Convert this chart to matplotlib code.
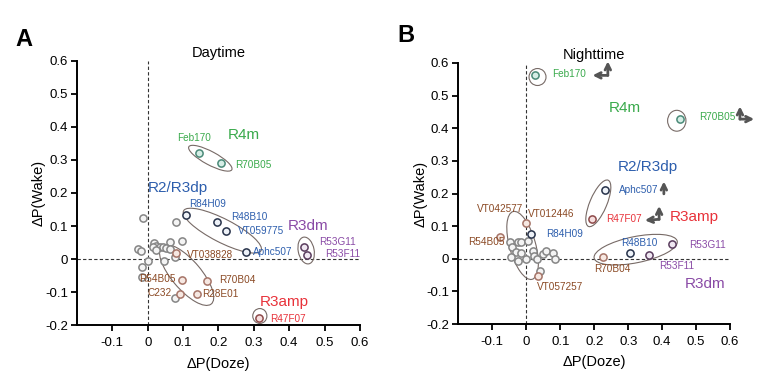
import numpy as np
import matplotlib.pyplot as plt
from matplotlib.patches import Ellipse
from matplotlib.ticker import FuncFormatter

plt.rcParams['font.family'] = ['Liberation Sans', 'DejaVu Sans']
plt.rcParams['axes.unicode_minus'] = False

# ---- data: daytime (panel A) ----
day_names = ['Feb170', 'R70B05', 'R84H09', 'R48B10', 'VT059775', 'Aphc507',
             'R53G11', 'R53F11', 'R47F07', 'R70B04', 'R28E01', 'C232', 'R54B05', 'VT038828']
day_doze = [0.145, 0.208, 0.107, 0.196, 0.221, 0.279,
            0.443, 0.451, 0.315, 0.168, 0.138, 0.091, 0.098, 0.079]
day_wake = [0.321, 0.291, 0.132, 0.113, 0.086, 0.021,
            0.038, 0.013, -0.177, -0.066, -0.107, -0.105, -0.063, 0.018]
day_group = ['R4m', 'R4m', 'R2/R3dp', 'R2/R3dp', 'R2/R3dp', 'R2/R3dp',
             'R3dm', 'R3dm', 'R3amp', 'other', 'other', 'other', 'other', 'other']
day_rest_doze = [-0.012, 0.079, 0.063, 0.098, 0.018, 0.022, 0.014, 0.036, 0.043, 0.051,
                 0.062, 0.023, -0.027, -0.018, 0.002, 0.046, -0.017, -0.017, 0.077, 0.078]
day_rest_wake = [0.124, 0.111, 0.051, 0.056, 0.048, 0.040, 0.036, 0.037, 0.038, 0.035,
                 0.030, 0.028, 0.030, 0.024, -0.005, -0.007, -0.025, -0.053, -0.118, 0.006]

# ---- data: nighttime (panel B) ----
night_names = ['Feb170', 'R70B05', 'Aphc507', 'R84H09', 'R48B10', 'R47F07',
               'R53G11', 'R53F11', 'R70B04', 'VT012446', 'VT057257', 'R54B05']
night_doze = [0.027, 0.452, 0.231, 0.015, 0.305, 0.194,
              0.429, 0.362, 0.226, -0.002, 0.034, -0.077]
night_wake = [0.562, 0.427, 0.212, 0.075, 0.017, 0.123,
              0.044, 0.013, 0.007, 0.110, -0.054, 0.066]
night_group = ['R4m', 'R4m', 'R2/R3dp', 'R2/R3dp', 'R2/R3dp', 'R3amp',
               'R3dm', 'R3dm', 'other', 'other', 'other', 'other']
night_rest_doze = [-0.047, -0.025, -0.015, 0.005, -0.041, -0.029, -0.015, -0.044, -0.025,
                   0.000, 0.020, 0.024, 0.030, 0.049, 0.059, 0.079, 0.083, 0.039]
night_rest_wake = [0.051, 0.053, 0.053, 0.055, 0.036, 0.022, 0.018, 0.005, -0.007,
                   0.000, 0.023, 0.010, -0.002, 0.015, 0.023, 0.017, -0.002, -0.036]

x_ticks = [-0.1, 0, 0.1, 0.2, 0.3, 0.4, 0.5, 0.6]
y_ticks = [-0.2, -0.1, 0, 0.1, 0.2, 0.3, 0.4, 0.5, 0.6]

# ---- styles ----
text_col = {'R4m': '#3aaa4c', 'R2/R3dp': '#2d5ead', 'R3dm': '#8a4ba6',
            'R3amp': '#e8333b', 'other': '#8b4a25'}
edge_col = {'R4m': '#4a8a78', 'R2/R3dp': '#27324a', 'R3dm': '#5a3d5e',
            'R3amp': '#8e4a4a', 'other': '#a67468', 'rest': '#858585'}
face_col = {'R4m': '#d6eee6', 'R2/R3dp': '#eef2f8', 'R3dm': '#f0e8f2',
            'R3amp': '#f6dede', 'other': '#f6e8e2', 'rest': '#f4f4f4'}
ell_col = '#776a66'

# label positions (left edge, vertical centre) in data units
day_label_pos = {'Feb170': (0.084, 0.367), 'R70B05': (0.246, 0.284), 'R84H09': (0.118, 0.167),
                 'R48B10': (0.237, 0.126), 'VT059775': (0.254, 0.084), 'Aphc507': (0.299, 0.021),
                 'R53G11': (0.485, 0.053), 'R53F11': (0.501, 0.014), 'R47F07': (0.345, -0.182),
                 'R70B04': (0.201, -0.063), 'R28E01': (0.154, -0.106), 'C232': (-0.001, -0.103),
                 'R54B05': (-0.025, -0.061), 'VT038828': (0.110, 0.011)}
day_group_pos = {'R4m': (0.227, 0.375), 'R2/R3dp': (0.001, 0.215),
                 'R3dm': (0.395, 0.101), 'R3amp': (0.318, -0.130)}
night_label_pos = {'Feb170': (0.077, 0.565), 'R70B05': (0.509, 0.433), 'Aphc507': (0.273, 0.210),
                   'R84H09': (0.059, 0.077), 'R48B10': (0.278, 0.049), 'R47F07': (0.236, 0.123),
                   'R53G11': (0.479, 0.041), 'R53F11': (0.391, -0.023), 'R70B04': (0.199, -0.031),
                   'VT012446': (0.005, 0.138), 'VT057257': (0.031, -0.085), 'R54B05': (-0.172, 0.051),
                   'VT042577': (-0.146, 0.153)}
night_group_pos = {'R4m': (0.244, 0.463), 'R2/R3dp': (0.268, 0.281),
                   'R3dm': (0.467, -0.077), 'R3amp': (0.421, 0.128)}

# ellipses: centre, width, height, angle
day_ellipses = [((0.177, 0.305), 0.14, 0.04, -30), ((0.211, 0.086), 0.25, 0.07, -29),
                ((0.448, 0.026), 0.045, 0.082, 10), ((0.317, -0.172), 0.04, 0.045, 0),
                ((0.110, -0.048), 0.085, 0.224, 38)]
night_ellipses = [((0.033, 0.557), 0.05, 0.052, 0), ((0.443, 0.423), 0.054, 0.064, 0),
                  ((0.212, 0.170), 0.05, 0.153, -22), ((0.322, 0.028), 0.25, 0.08, 12),
                  ((-0.011, 0.041), 0.077, 0.215, 15)]
# elbow arrows: corner, tips
night_arrows = [((0.240, 0.562), [(0.195, 0.562), (0.240, 0.605)]),
                ((0.629, 0.428), [(0.629, 0.467), (0.671, 0.428)]),
                ((0.405, 0.199), [(0.405, 0.237)]),
                ((0.391, 0.121), [(0.349, 0.118), (0.391, 0.162)])]


def fmt(v, pos):
    return '0' if abs(v) < 1e-9 else f'{v:.1f}'


def draw_panel(ax, title, names, xs, ys, groups, rest_x, rest_y,
               label_pos, group_pos, ellipses):
    ax.axhline(0, ls=(0, (3, 2)), color='#333333', lw=0.8, zorder=1)
    ax.axvline(0, ls=(0, (3, 2)), color='#333333', lw=0.8, zorder=1)
    ax.scatter(rest_x, rest_y, s=27, facecolor=face_col['rest'],
               edgecolor=edge_col['rest'], lw=1.1, zorder=3)
    for n, x, y, g in zip(names, xs, ys, groups):
        ax.scatter([x], [y], s=27, facecolor=face_col[g], edgecolor=edge_col[g],
                   lw=1.1, zorder=4)
    for n, (lx, ly) in label_pos.items():
        g = groups[names.index(n)] if n in names else 'other'
        ax.text(lx, ly, n, color=text_col[g], fontsize=7.2, ha='left', va='center',
                zorder=5, clip_on=False)
    for g, (gx, gy) in group_pos.items():
        ax.text(gx, gy, g, color=text_col[g], fontsize=11, ha='left', va='center', zorder=5)
    for c, w, h, a in ellipses:
        ax.add_patch(Ellipse(c, w, h, angle=a, fill=False, ec=ell_col, lw=0.8, zorder=2))

    ax.set_xlim(-0.2, 0.6)
    ax.set_ylim(-0.2, 0.6)
    ax.set_xticks(x_ticks)
    ax.set_yticks(y_ticks)
    ax.xaxis.set_major_formatter(FuncFormatter(fmt))
    ax.yaxis.set_major_formatter(FuncFormatter(fmt))
    for s in ['top', 'right']:
        ax.spines[s].set_visible(False)
    for s in ['left', 'bottom']:
        ax.spines[s].set_linewidth(1.4)
    ax.tick_params(direction='out', length=4.5, width=1.3, labelsize=9.5)
    ax.tick_params(axis='x', pad=4)
    ax.tick_params(axis='y', pad=2)
    ax.set_xlabel('ΔP(Doze)', fontsize=10.5)
    ax.set_ylabel('ΔP(Wake)', fontsize=10.5)
    ax.xaxis.set_label_coords(0.5, -0.12)
    ax.yaxis.set_label_coords(-0.112, 0.5)
    ax.set_title(title, fontsize=10.5, pad=3)


fig = plt.figure(figsize=(7.73, 3.84), dpi=100)
axA = fig.add_axes([0.0996, 0.153, 0.366, 0.689])
axB = fig.add_axes([0.593, 0.156, 0.3515, 0.680])

draw_panel(axA, 'Daytime', day_names, day_doze, day_wake, day_group,
           day_rest_doze, day_rest_wake, day_label_pos, day_group_pos, day_ellipses)
draw_panel(axB, 'Nighttime', night_names, night_doze, night_wake, night_group,
           night_rest_doze, night_rest_wake, night_label_pos, night_group_pos, night_ellipses)

for corner, tips in night_arrows:
    for tip in tips:
        axB.annotate('', xy=tip, xytext=corner, annotation_clip=False,
                     arrowprops=dict(arrowstyle='->', color='#555555', lw=2,
                                     mutation_scale=10, shrinkA=0, shrinkB=0))

fig.text(15 / 773, 1 - 39 / 384, 'A', fontsize=17, fontweight='bold', va='center')
fig.text(397 / 773, 1 - 36 / 384, 'B', fontsize=17, fontweight='bold', va='center')

fig.savefig('out.png', dpi=100)
